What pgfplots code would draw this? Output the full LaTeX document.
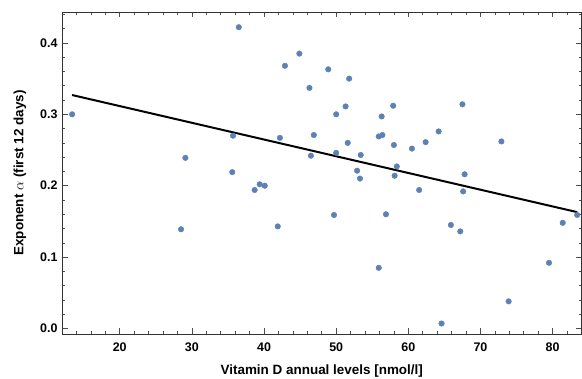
\documentclass[border=0pt]{standalone}
\usepackage{pgfplots}
\pgfplotsset{compat=1.18}
\usepackage{fontspec}
\setmainfont{Liberation Sans}
\definecolor{dotblue}{HTML}{5E81B5}
\begin{document}
\begin{tikzpicture}
\begin{axis}[
  scale only axis,
  width=519.5bp, height=322bp,
  xmin=12, xmax=84,
  ymin=-0.0077, ymax=0.4433,
  xtick={20,30,...,80},
  minor xtick={12,14,...,84},
  ytick={0,0.1,0.2,0.3,0.4},
  minor ytick={0,0.02,...,0.44},
  tick align=inside,
  major tick length=5.5bp,
  minor tick length=3bp,
  axis line style={black!80, line width=0.7pt},
  every tick/.style={black!70, line width=0.6pt},
  /pgf/number format/assume math mode=true,
  yticklabel style={/pgf/number format/fixed, /pgf/number format/fixed zerofill, /pgf/number format/precision=1},
  every tick label/.append style={font=\fontsize{12.5}{14}\selectfont\bfseries, text=black},
  xticklabel style={yshift=-5bp},
  yticklabel style={xshift=-1bp},
  xlabel={Vitamin D annual levels [nmol/l]},
  ylabel={Exponent $\alpha$ (first 12 days)},
  every axis x label/.style={at={(axis description cs:0.5,-0.126)}, anchor=base, font=\fontsize{13.5}{16}\selectfont\bfseries},
  every axis y label/.style={at={(axis description cs:-0.081,0.5)}, rotate=90, anchor=center, font=\fontsize{13.5}{16}\selectfont\bfseries},
]
\addplot[only marks, mark=*, mark size=2.8pt, mark options={fill=dotblue, draw=dotblue}] coordinates {
(13.4,0.300) (28.5,0.139) (29.1,0.239) (35.7,0.270) (35.6,0.219) (36.5,0.422)
(38.7,0.194) (39.4,0.202) (40.1,0.200) (41.9,0.143) (42.2,0.267) (42.9,0.368)
(44.9,0.385) (46.3,0.337) (46.5,0.242) (46.9,0.271) (48.9,0.363) (49.7,0.159)
(50.0,0.300) (50.0,0.246) (51.3,0.311) (51.6,0.260) (51.8,0.350) (52.9,0.221)
(53.3,0.210) (53.4,0.243) (55.9,0.085) (55.9,0.269) (56.4,0.271) (56.3,0.297)
(56.9,0.160) (57.9,0.312) (58.0,0.257) (58.1,0.214) (58.4,0.227) (60.5,0.252)
(61.5,0.194) (62.4,0.261) (64.2,0.276) (64.6,0.007) (65.9,0.145) (67.2,0.136)
(67.5,0.314) (67.6,0.192) (67.8,0.216) (72.9,0.262) (73.9,0.038) (79.5,0.092)
(81.4,0.148) (83.4,0.159)
};
\addplot[black, line width=2pt] coordinates {(13.4,0.327) (83.4,0.163)};
\end{axis}
\pgfresetboundingbox
\useasboundingbox (-62bp,-45bp) rectangle (520bp,334bp);
\end{tikzpicture}
\end{document}
